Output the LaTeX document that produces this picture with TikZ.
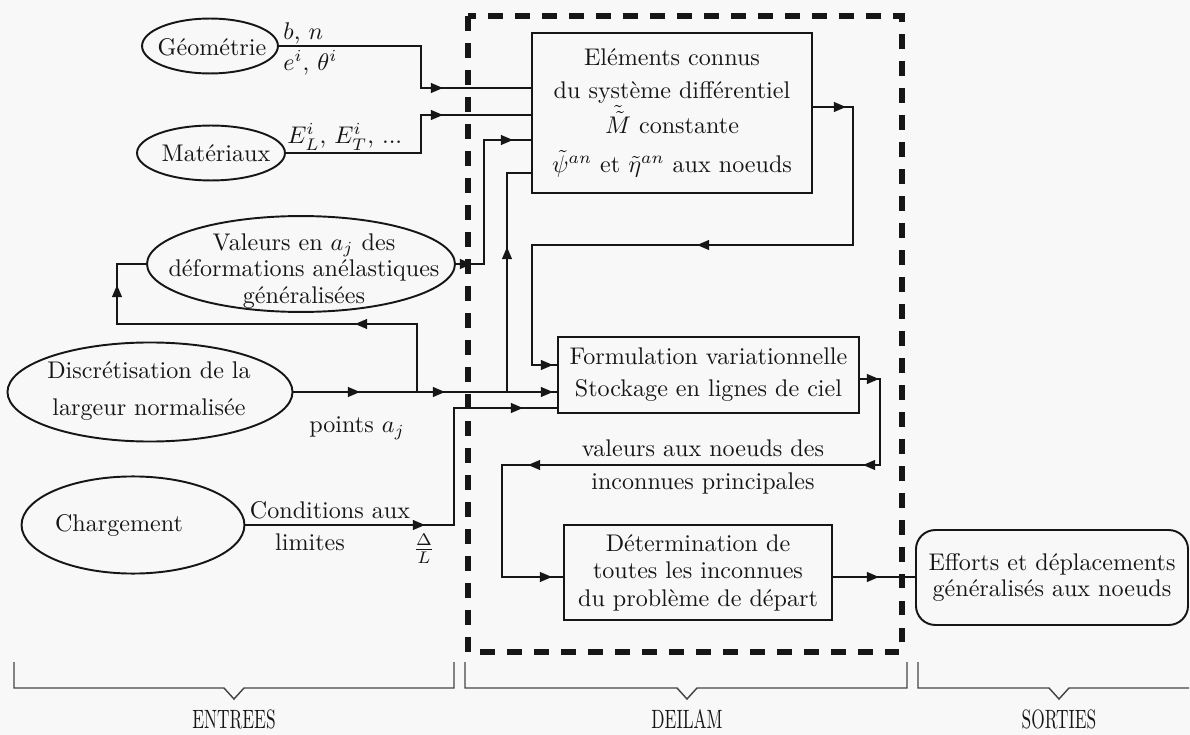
\documentclass[tikz,border=0pt]{standalone}
\usetikzlibrary{arrows.meta,shapes.geometric}
\definecolor{bg}{RGB}{249,248,248}
\definecolor{ink}{RGB}{22,22,22}
\newcommand\arrR[1]{\draw[conn,tip] ([xshift=-6pt]#1) -- (#1);}
\newcommand\arrL[1]{\draw[conn,tip] ([xshift=6pt]#1) -- (#1);}
\newcommand\arrU[1]{\draw[conn,tip] ([yshift=-6pt]#1) -- (#1);}
\begin{document}
\begin{tikzpicture}[x=0.415pt,y=-0.415pt,
  conn/.style={line width=0.8pt,draw=ink},
  tip/.style={-{Triangle[length=5pt,width=4pt]}},
  ell/.style={draw=ink,line width=0.8pt,ellipse,inner sep=0pt},
  box/.style={draw=ink,line width=0.8pt,rectangle,inner sep=0pt,align=center,text=ink},
  txt/.style={align=center,inner sep=0pt,text=ink},
  brace/.style={line width=0.6pt,draw=ink!80},
  frame/.style={draw=ink,line width=2.1pt,dash pattern=on 6.2pt off 5pt},
]
\fill[bg] (0,0) rectangle (1190,735);
\useasboundingbox (0,0) rectangle (1190,735);

% DEILAM frame
\draw[frame] (468,16) rectangle (902,652);

% input ellipses
\node[ell,minimum width=56.4pt,minimum height=22.8pt] (geo) at (210,46) {};
\node[txt] (geot) at (212,47) {Géométrie};
\node[ell,minimum width=61.4pt,minimum height=22.8pt] (mat) at (211,153) {};
\node[txt] (matt) at (216,153) {Matériaux};
\node[ell,minimum width=127.8pt,minimum height=39.8pt] (val) at (301,264) {};
\node[txt,font=\fontsize{10}{11}\selectfont] (valt) at (304,271) {Valeurs en $a_j$ des\\déformations anélastiques\\généralisées};
\node[ell,minimum width=118.3pt,minimum height=41.1pt] (disc) at (150,392) {};
\node[txt,font=\fontsize{10}{15.4}\selectfont] (disct) at (149,391) {Discrétisation de la\\largeur normalisée};
\node[ell,minimum width=92.5pt,minimum height=40.3pt] (charg) at (133,525) {};
\node[txt] (chargt) at (119,525) {Chargement};

% process boxes
\node[box,minimum width=116.2pt,minimum height=66.4pt,font=\fontsize{10}{13.7}\selectfont] (elem) at (672,113)
  {Eléments connus\\du système différentiel\\[0.8pt]$\tilde{\tilde{M}}$ constante\\[2.5pt]$\tilde{\psi}^{an}$ et $\tilde{\eta}^{an}$ aux noeuds};
\node[box,minimum width=124.9pt,minimum height=31.5pt,font=\fontsize{10}{13.3}\selectfont] (form) at (708.5,375)
  {Formulation variationnelle\\Stockage en lignes de ciel};
\node[box,minimum width=111.2pt,minimum height=39.4pt,font=\fontsize{10}{11.4}\selectfont] (det) at (698,572.5)
  {Détermination de\\toutes les inconnues\\du problème de départ};
\node[box,rounded corners=8pt,minimum width=112.9pt,minimum height=39.4pt,font=\fontsize{10}{10.8}\selectfont] (eff) at (1052,577.5)
  {Efforts et déplacements\\généralisés aux noeuds};

% labels
\node[txt,anchor=west] (bn) at (283,33) {$b$, $n$};
\node[txt,anchor=west] (eth) at (283,63) {$e^i$, $\theta^i$};
\node[txt,anchor=west] (ELT) at (287,137) {$E^i_L$, $E^i_T$, ...};
\node[txt] (pts) at (357,428) {points $a_j$};
\node[txt] (cond1) at (330,510) {Conditions aux};
\node[txt] (cond2) at (310,542) {limites};
\node[txt] (dl) at (424,549) {$\frac{\Delta}{L}$};
\node[txt,font=\fontsize{10}{13.7}\selectfont] (vaux) at (703,467) {valeurs aux noeuds des\\inconnues principales};

% bend coordinates
\coordinate (g1) at (421,88);
\coordinate (m1) at (421,115);
\coordinate (v1) at (484,140);
\coordinate (d1) at (417,392);
\coordinate (d2) at (117,324);
\coordinate (d3) at (507,392);
\coordinate (e1) at (532,173);
\coordinate (c1) at (454,408);
\coordinate (l0) at (812,107);
\coordinate (l1) at (853,245);
\coordinate (l2) at (532,365);
\coordinate (f0) at (859,379);
\coordinate (k1) at (880,465);
\coordinate (k2) at (502,577);
\coordinate (q0) at (832,577);

% connectors
\draw[conn] (geo.east) -| (g1) -- (g1 -| elem.west);
\draw[conn] (mat.east) -| (m1) -- (m1 -| elem.west);
\draw[conn] (val.east) -| (v1) -- (v1 -| elem.west);
\draw[conn] (disc.east) -- (disc.east -| form.west);
\draw[conn] (d1) |- (d2) |- (val.west);
\draw[conn] (d3) |- (e1);
\draw[conn] (charg.east) -| (c1) -- (c1 -| form.west);
\draw[conn] (l0) -| (l1) -| (l2) -- (l2 -| form.west);
\draw[conn] (f0) -| (k1) -| (k2) -- (k2 -| det.west);
\draw[conn] (q0) -- (q0 -| eff.west);

% arrowheads
\arrR{443,88}
\arrR{443,115}
\arrR{472,264}
\arrR{513,140}
\arrR{360,392}
\arrR{445,392}
\arrR{553,392}
\arrL{355,324}
\arrU{117,285}
\arrU{507,247}
\arrR{425,525}
\arrR{523,408}
\arrR{846,107}
\arrL{697,245}
\arrR{553,365}
\arrR{879,379}
\arrL{863,465}
\arrL{528,465}
\arrR{552,577}
\arrR{879,577}

% braces
\draw[brace] (14,662) -- (14,688) -- (224,688) -- (234,699) -- (244,688) -- (454,688) -- (454,662);
\draw[brace] (465,662) -- (465,688) -- (677,688) -- (687,699) -- (697,688) -- (907,688) -- (907,662);
\draw[brace] (918,662) -- (918,688) -- (1049,688) -- (1059,699) -- (1069,688) -- (1189,688);
\node[txt] (lin) at (234,719) {\scalebox{0.72}[1.1]{ENTREES}};
\node[txt] (ldei) at (687,719) {\scalebox{0.72}[1.1]{DEILAM}};
\node[txt] (lout) at (1059,719) {\scalebox{0.72}[1.1]{SORTIES}};
\end{tikzpicture}
\end{document}
